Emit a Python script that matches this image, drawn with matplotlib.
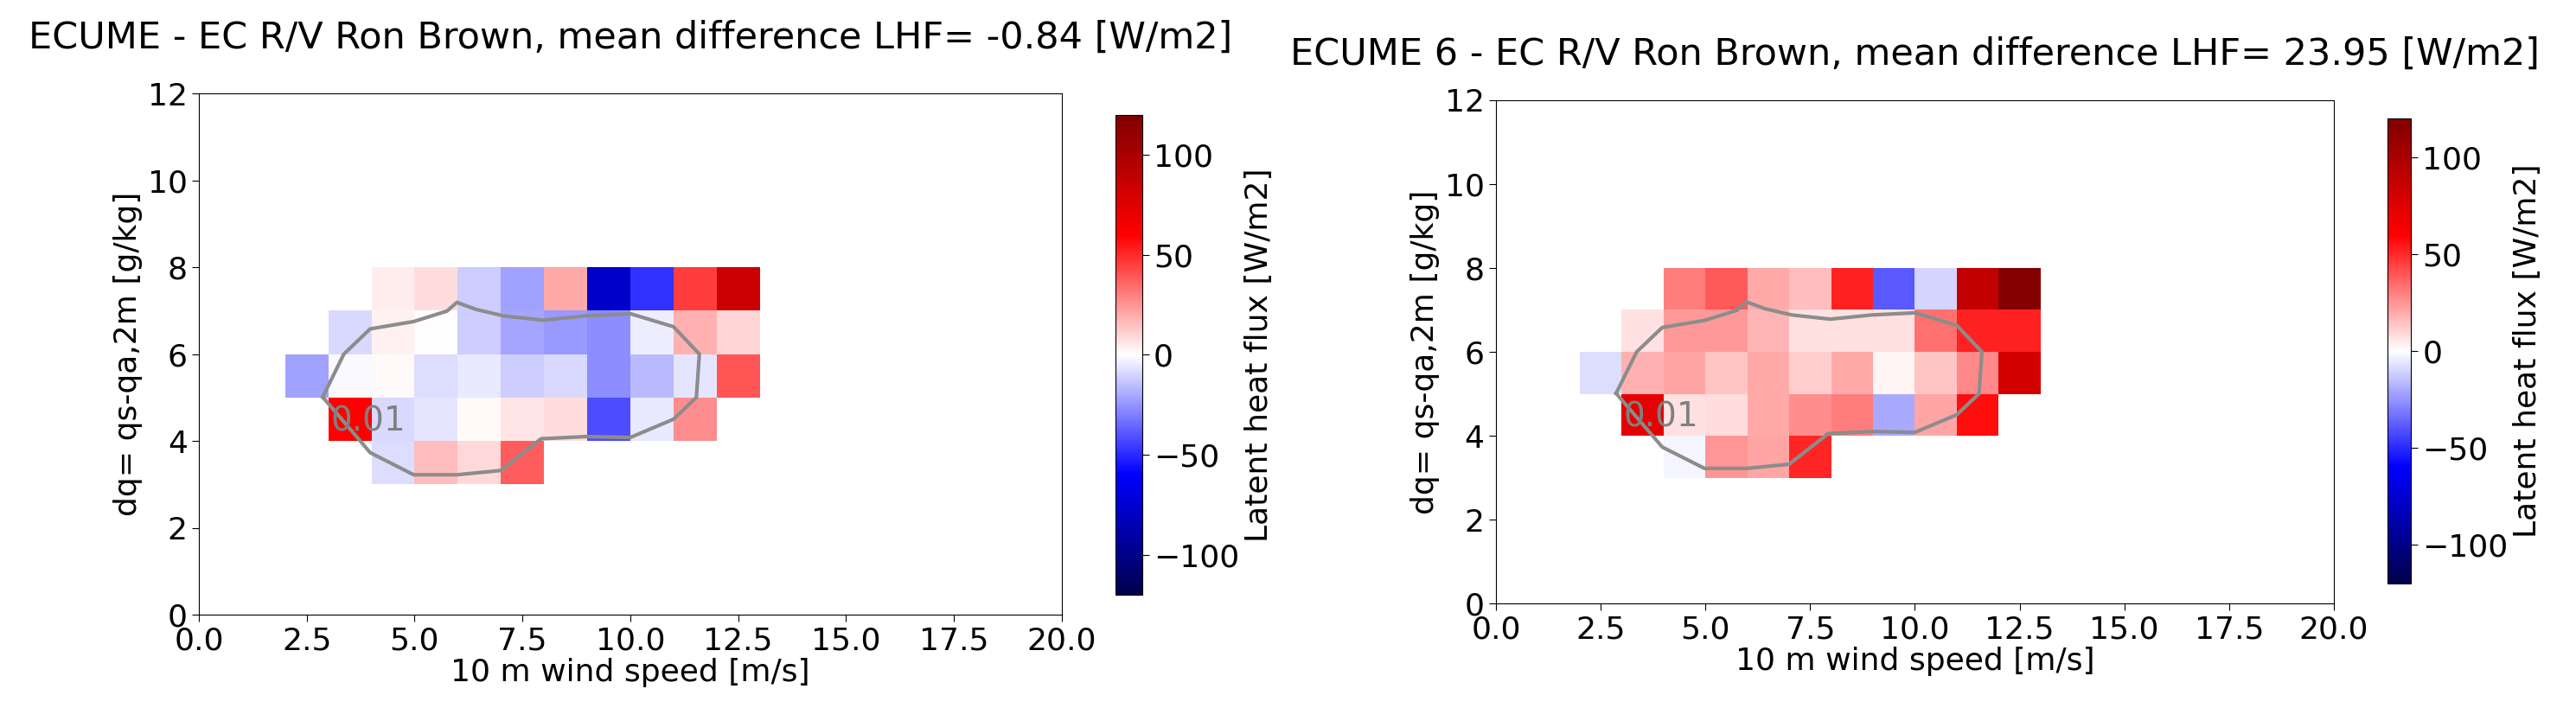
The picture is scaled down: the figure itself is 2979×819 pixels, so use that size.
import numpy as np
import matplotlib
matplotlib.use("Agg")
import matplotlib.pyplot as plt

# bin edges
wind_edges = [2, 3, 4, 5, 6, 7, 8, 9, 10, 11, 12, 13]
dq_edges = [3, 4, 5, 6, 7, 8]
nan = np.nan

# LHF difference, rows dq bins 3-4 .. 7-8, columns wind bins 2-3 .. 12-13
ecume_row3 = [nan, nan, -8, 15, 9, 38, nan, nan, nan, nan, nan]
ecume_row4 = [nan, 60, -9, -6, 1, 6, 8, -42, -5, 27, nan]
ecume_row5 = [-22, -1, 1, -8, -5, -12, -9, -27, -16, -6, 40]
ecume_row6 = [nan, -9, 3, 0, -12, -21, -24, -27, -4, 18, 10]
ecume_row7 = [nan, nan, 4, 8, -12, -22, 20, -77, -48, 45, 84]

ecume6_row3 = [nan, nan, -2, 25, 21, 51, nan, nan, nan, nan, nan]
ecume6_row4 = [nan, 72, 7, 8, 20, 27, 30, -20, 21, 57, nan]
ecume6_row5 = [-8, 18, 21, 14, 20, 12, 20, 2, 14, 28, 80]
ecume6_row6 = [nan, 7, 24, 24, 17, 7, 7, 7, 33, 52, 52]
ecume6_row7 = [nan, nan, 30, 39, 20, 15, 52, -39, -10, 88, 118]

# 0.01 density contour
contour_x = [2.87, 3.36, 3.97, 4.98, 5.75, 5.98, 6.42, 7.06, 7.98, 8.98, 10.0, 11.0,
             11.6, 11.53, 11.0, 10.0, 8.98, 7.93, 7.0, 5.98, 4.98, 3.97, 3.8, 2.87]
contour_y = [5.01, 6.0, 6.58, 6.75, 6.99, 7.19, 7.03, 6.88, 6.78, 6.88, 6.93, 6.63,
             6.0, 5.0, 4.5, 4.08, 4.1, 4.05, 3.32, 3.22, 3.22, 3.73, 3.93, 5.01]
contour_label = "0.01"

titles = ["ECUME - EC R/V Ron Brown, mean difference LHF= -0.84 [W/m2]",
          "ECUME 6 - EC R/V Ron Brown, mean difference LHF= 23.95 [W/m2]"]

panels = [
    np.array([ecume_row3, ecume_row4, ecume_row5, ecume_row6, ecume_row7]),
    np.array([ecume6_row3, ecume6_row4, ecume6_row5, ecume6_row6, ecume6_row7]),
]

plt.rcParams['font.family'] = ['DejaVu Sans']
fig = plt.figure(figsize=(29.79, 8.19), dpi=100)

ax_pos = [[0.0772, 0.1319, 0.335, 0.736], [0.5807, 0.1477, 0.3253, 0.7107]]
cb_pos = [[0.433, 0.160, 0.0104, 0.678], [0.9268, 0.1758, 0.0091, 0.657]]
title_pad = [38, 30]

fs = 26
for i in range(2):
    ax = fig.add_axes(ax_pos[i])
    data = np.ma.masked_invalid(panels[i])
    mesh = ax.pcolormesh(wind_edges, dq_edges, data, cmap='seismic', vmin=-120, vmax=120)
    ax.plot(contour_x, contour_y, color='#8c8c8c', lw=3)
    ax.text(3.05, 4.45, contour_label, color='#808080', fontsize=fs + 2, va='center', ha='left')
    ax.set_xlim(0, 20)
    ax.set_ylim(0, 12)
    ax.set_xticks(np.arange(0, 20.1, 2.5))
    ax.set_yticks(np.arange(0, 12.1, 2))
    ax.tick_params(labelsize=fs, length=6)
    ax.set_xlabel("10 m wind speed [m/s]", fontsize=fs, labelpad=2)
    ax.set_ylabel("dq= qs-qa,2m [g/kg]", fontsize=fs)
    ax.set_title(titles[i], fontsize=31, pad=title_pad[i])
    cax = fig.add_axes(cb_pos[i])
    cb = fig.colorbar(mesh, cax=cax)
    cb.set_ticks([-100, -50, 0, 50, 100])
    cb.ax.tick_params(labelsize=fs, length=6)
    cb.set_label("Latent heat flux [W/m2]", fontsize=fs)

fig.savefig("out.png", dpi=100)
